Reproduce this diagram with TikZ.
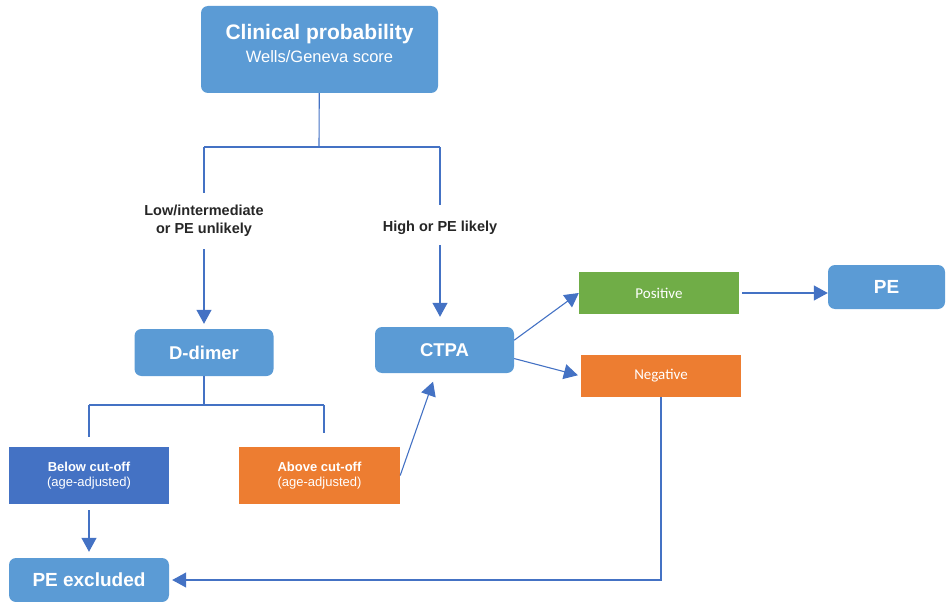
\documentclass[tikz,border=0pt]{standalone}
\usepackage{fontspec}
\setmainfont{Liberation Sans}
\newfontfamily\calibri{Carlito}
\usepackage{tikz}
\usetikzlibrary{arrows.meta}

\definecolor{boxblue}{HTML}{5B9BD5}
\definecolor{deepblue}{HTML}{4472C4}
\definecolor{boxorange}{HTML}{ED7D31}
\definecolor{boxgreen}{HTML}{70AD47}
\definecolor{labelgray}{HTML}{262626}

\newcommand{\fs}[1]{\fontsize{#1}{1.2\dimexpr#1pt\relax}\selectfont}

\tikzset{
  stepbox/.style={rounded corners=7pt,fill=boxblue,text=white,inner sep=0pt,align=center},
  outcome/.style={fill=#1,text=white,inner sep=0pt,align=center},
  branch/.style={text=labelgray,align=center,inner sep=2pt,font=\fs{14.5}\bfseries},
  link/.style={draw=deepblue,line width=1.1pt},
  arr/.style={link,-{Triangle[length=14pt,width=15pt]}}
}

\begin{document}
\begin{tikzpicture}[x=1pt,y=-1pt]
  \useasboundingbox (0,0) rectangle (946,602);

  % boxes
  \node[stepbox,minimum width=237,minimum height=87] (clin) at (319.5,49.5)
    {{\fs{21}\bfseries Clinical probability}\\[6pt]{\fs{16.5}Wells/Geneva score}\\[0pt]};
  \node[branch] (low) at (204,221) {Low/intermediate\\[1pt]or PE unlikely};
  \node[branch] (high) at (440,228) {High or PE likely};
  \node[stepbox,minimum width=139,minimum height=47,font=\fs{18.5}\bfseries] (ddimer) at (204,352.5) {D-dimer};
  \node[stepbox,minimum width=139,minimum height=46,font=\fs{18.5}\bfseries] (ctpa) at (444.5,350) {CTPA};
  \node[outcome=deepblue,minimum width=160,minimum height=57,font=\fs{13}] (below) at (89,475.5)
    {\textbf{Below cut-off}\\(age-adjusted)};
  \node[outcome=boxorange,minimum width=161,minimum height=57,font=\fs{13}] (above) at (319.5,475.5)
    {\textbf{Above cut-off}\\(age-adjusted)};
  \node[stepbox,minimum width=160,minimum height=44,font=\fs{19}\bfseries] (excl) at (89,580) {PE excluded};
  \node[outcome=boxgreen,minimum width=160,minimum height=42,font=\calibri\fs{15}] (pos) at (659,293) {Positive};
  \node[outcome=boxorange,minimum width=160,minimum height=42,font=\calibri\fs{15}] (neg) at (661,376) {Negative};
  \node[stepbox,minimum width=117,minimum height=44,font=\fs{19}\bfseries] (pe) at (886.5,287) {PE};

  % split points
  \coordinate (split) at (319,147);
  \coordinate (barL) at (204,147);
  \coordinate (barR) at (440,147);
  \coordinate (dsplit) at (204,405);
  \coordinate (dL) at (89,405);
  \coordinate (dR) at (324,405);

  % connectors
  \draw[link] (clin) -- (split);
  \draw[link] (barL) -- (barR);
  \draw[link,shorten >=10pt] (barL) -- (low);
  \draw[link,shorten >=14pt] (barR) -- (high);
  \draw[arr,shorten <=10pt,shorten >=5pt] (low) -- (ddimer);
  \draw[arr,shorten <=8pt,shorten >=10pt] (high) -- (high |- ctpa.north);
  \draw[link] (ddimer) -- (dsplit);
  \draw[link] (dL) -- (dR);
  \draw[link,shorten >=10pt] (dL) -- (below);
  \draw[link,shorten >=14pt] (dR) -- (dR |- above.north);
  \draw[arr,shorten >=9pt] (above.east) -- (ctpa.250);
  \draw[arr,shorten <=6pt,shorten >=6pt] (below) -- (excl);
  \draw[arr] (ctpa.8) -- (pos.west);
  \draw[arr,shorten >=3pt] (ctpa.-7) -- (neg.west);
  \draw[arr,shorten <=3pt] (pos.east) -- (pos.east -| pe.west);
  \draw[arr,shorten >=3pt] (neg.south) |- (excl.east);
\end{tikzpicture}
\end{document}
